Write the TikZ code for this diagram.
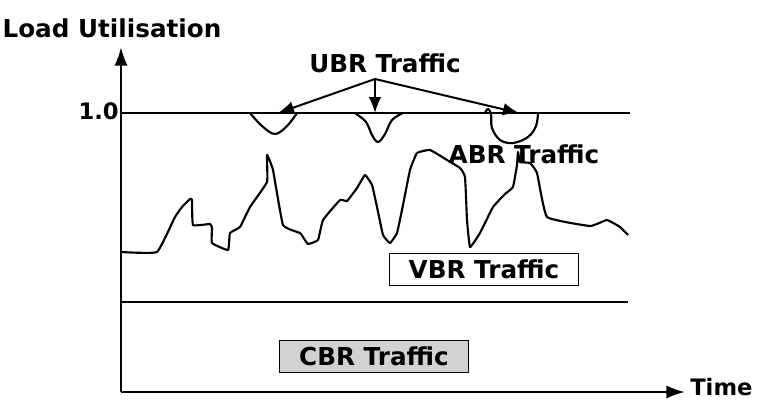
\documentclass[tikz,border=0pt]{standalone}
\usepackage{fontspec}
\setmainfont{DejaVu Sans}
\usetikzlibrary{arrows.meta}
\begin{document}
\begin{tikzpicture}[x=0.75pt,y=-0.75pt,
  lbl/.style={font=\fontsize{18.5}{20}\selectfont\bfseries, inner sep=0pt},
  axis/.style={line width=1.9pt},
  tip/.style={-{Latex[length=14pt,width=10pt]}},
  utip/.style={-{Latex[length=12pt,width=9.5pt]}},
  curve/.style={line width=1.6pt, line join=round},
  tbox/.style={draw, line width=0.7pt, minimum width=142pt, minimum height=24pt, inner sep=0pt, font=\fontsize{18.5}{20}\selectfont\bfseries}]
\useasboundingbox (0,0) rectangle (762,401);
% axes
\coordinate (o) at (121,392);
\coordinate (ytop) at (121,47);
\coordinate (xend) at (685,392);
\draw[axis,tip] (o) -- (ytop);
\draw[axis,tip] (o) -- (xend);
\node[lbl,anchor=west,font=\fontsize{17}{19}\selectfont\bfseries] (time) at (690,387) {Time};
\node[lbl] (load) at (112,28) {Load Utilisation};
\node[lbl,anchor=east,font=\fontsize{17}{18}\selectfont\bfseries] (one) at (119,111) {1.0};
% horizontal lines
\coordinate (l1a) at (121,113);
\coordinate (l1b) at (630,113);
\coordinate (l2a) at (121,302);
\coordinate (l2b) at (628,302);
\draw[axis] (l1a) -- (l1b);
\draw[axis] (l2a) -- (l2b);
% dips in the 1.0 line
\draw[curve] plot[smooth,tension=0.6] coordinates {(250,113) (262,126) (275,134) (287,126) (297,113)};
\draw[curve] plot[smooth,tension=0.6] coordinates {(355,113) (366,122) (372,135) (378,142) (385,134) (392,120) (403,113)};
\draw[curve] plot[smooth,tension=0.6] coordinates {(485,113) (488,109) (491,114) (492,128) (500,140) (513,143) (528,137) (536,126) (538,113)};
% VBR curve
\draw[curve] plot[smooth,tension=0.2] coordinates {(121,252) (157,252) (175,217) (182,207) (190,199) (192,200) (193,225) (210,224) (212,228) (212,243) (228,250) (230,233) (240,227) (250,207) (267,182) (267,155) (273,170) (283,225) (300,233) (303,237) (308,244) (318,240) (323,220) (340,200) (347,201) (357,188) (365,175) (372,185) (377,207) (383,235) (390,243) (397,233) (403,205) (410,170) (417,153) (430,150) (447,160) (460,168) (465,177) (467,220) (470,247) (480,233) (493,207) (505,194) (513,187) (517,165) (518,152) (520,162) (530,163) (537,173) (547,217) (590,226) (607,220) (620,227) (628,235)};
% labels
\node[lbl] (ubr) at (385,63) {UBR Traffic};
\node[lbl] (abr) at (524,154) {ABR Traffic};
\node[tbox,fill=white] (vbr) at (484,269) {VBR Traffic};
\node[tbox,fill=gray!35] (cbr) at (374,356) {CBR Traffic};
% UBR arrows
\coordinate (apex) at (375,79);
\coordinate (u1) at (278,113);
\coordinate (u2) at (375,113);
\coordinate (u3) at (519,113);
\draw[line width=1.5pt,utip] (apex) -- (u1);
\draw[line width=1.5pt,utip] (apex) -- (u2);
\draw[line width=1.5pt,utip] (apex) -- (u3);
\end{tikzpicture}
\end{document}
